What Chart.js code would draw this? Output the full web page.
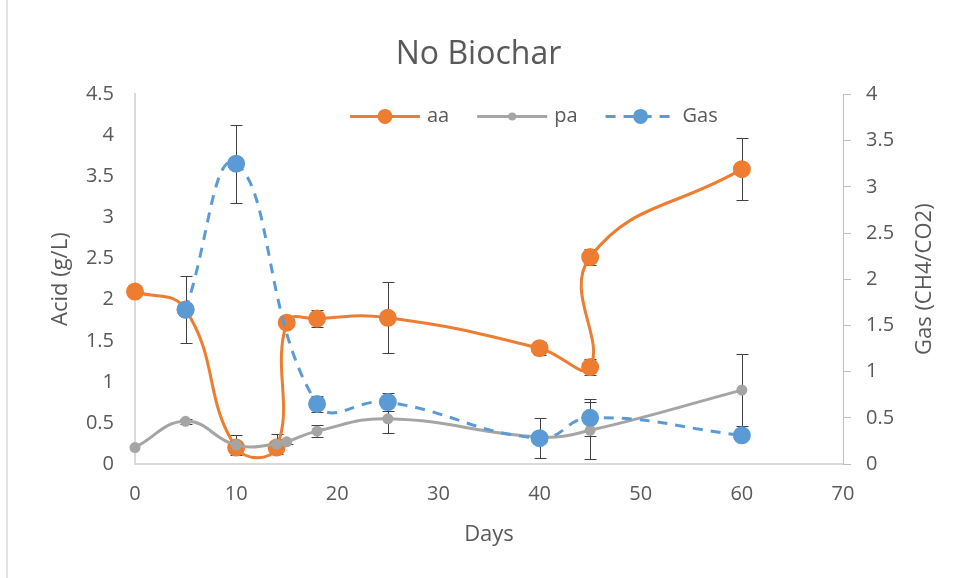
<!DOCTYPE html>
<html>
<head>
<meta charset="utf-8">
<script src="https://cdn.jsdelivr.net/npm/chart.js@4.4.1/dist/chart.umd.min.js"></script>
<style>
  html, body { margin: 0; padding: 0; background: #fff; }
  #wrap { position: relative; width: 957px; height: 578px; }
  #frame { position: absolute; left: 6px; top: 0; width: 2px; height: 578px; background: #e3e3e3; }
  canvas { position: absolute; left: 0; top: 0; }
</style>
</head>
<body>
<div id="wrap">
  <div id="frame"></div>
  <canvas id="grafico" width="957" height="578"></canvas>
</div>
<script>
// Datos
const diasAA = [0, 5, 10, 14, 15, 18, 25, 40, 45, 45, 60];
const aa = [2.1, 1.88, 0.2, 0.2, 1.72, 1.77, 1.78, 1.41, 1.18, 2.52, 3.59];
const errAA = [0, 0, 0.05, 0.05, 0, 0.1, 0.43, 0.08, 0.1, 0.1, 0.38];

const diasPA = [0, 5, 10, 14, 15, 18, 25, 40, 45, 60];
const pa = [0.2, 0.52, 0.23, 0.24, 0.27, 0.4, 0.55, 0.33, 0.41, 0.9];
const errPA = [0, 0.03, 0.12, 0.12, 0.03, 0.07, 0.17, 0, 0.35, 0.44];

const diasGas = [5, 10, 18, 25, 40, 45, 60];
const gas = [1.67, 3.25, 0.65, 0.67, 0.28, 0.5, 0.31];
const errGas = [0.36, 0.42, 0.09, 0.1, 0.22, 0.2, 0];

const ticksX = [0, 10, 20, 30, 40, 50, 60, 70];

const naranja = '#ED7D31';
const gris = '#A5A5A5';
const azul = '#5B9BD5';
const texto = '#595959';
const fuente = "'Open Sans', sans-serif";

const puntos = (xs, ys) => xs.map((x, i) => ({ x, y: ys[i] }));
const etiqueta = v => String(Math.round(v * 10) / 10);

// barras de error dibujadas con las escalas del gráfico
const barrasError = {
  id: 'barrasError',
  beforeDatasetsDraw(chart) {
    const ctx = chart.ctx;
    const sx = chart.scales.x;
    ctx.save();
    ctx.strokeStyle = '#404040';
    ctx.lineWidth = 1;
    chart.data.datasets.forEach(ds => {
      const sy = chart.scales[ds.yAxisID];
      ds.data.forEach((p, i) => {
        const e = ds.errores[i];
        if (!e) return;
        const x = Math.round(sx.getPixelForValue(p.x)) + 0.5;
        const y1 = Math.round(sy.getPixelForValue(p.y + e)) + 0.5;
        const y2 = Math.round(sy.getPixelForValue(p.y - e)) + 0.5;
        ctx.beginPath();
        ctx.moveTo(x, y1); ctx.lineTo(x, y2);
        ctx.moveTo(x - 6, y1); ctx.lineTo(x + 6, y1);
        ctx.moveTo(x - 6, y2); ctx.lineTo(x + 6, y2);
        ctx.stroke();
      });
    });
    ctx.restore();
  }
};

// leyenda dentro del área del gráfico y título del eje derecho girado como en Excel
const leyenda = {
  id: 'leyenda',
  afterDraw(chart) {
    const ctx = chart.ctx;
    const area = chart.chartArea;
    const y = area.top + 22;
    let x = area.left + 215;
    ctx.save();
    ctx.font = `20px ${fuente}`;
    ctx.textBaseline = 'middle';
    chart.data.datasets.slice().sort((a, b) => b.order - a.order).forEach(ds => {
      ctx.strokeStyle = ds.borderColor;
      ctx.lineWidth = ds.borderWidth;
      ctx.setLineDash(ds.borderDash || []);
      ctx.beginPath();
      ctx.moveTo(x, y); ctx.lineTo(x + 70, y);
      ctx.stroke();
      ctx.setLineDash([]);
      ctx.fillStyle = ds.pointBackgroundColor;
      ctx.beginPath();
      ctx.arc(x + 35, y, ds.pointRadius, 0, Math.PI * 2);
      ctx.fill();
      ctx.fillStyle = texto;
      ctx.fillText(ds.label, x + 77, y);
      x += 77 + ctx.measureText(ds.label).width + 28;
    });

    const s = chart.scales.y1;
    ctx.translate(s.right - 32, (area.top + area.bottom) / 2);
    ctx.rotate(-Math.PI / 2);
    ctx.font = `22px ${fuente}`;
    ctx.textAlign = 'center';
    ctx.fillText('Gas (CH4/CO2)', 0, 0);
    ctx.restore();
  }
};

new Chart(document.getElementById('grafico'), {
  type: 'scatter',
  data: {
    datasets: [{
      label: 'aa',
      data: puntos(diasAA, aa),
      errores: errAA,
      yAxisID: 'y',
      showLine: true,
      borderColor: naranja,
      backgroundColor: naranja,
      pointBackgroundColor: naranja,
      pointBorderColor: naranja,
      borderWidth: 3,
      pointRadius: 7.5,
      tension: 0.45,
      clip: false,
      order: 3
    }, {
      label: 'pa',
      data: puntos(diasPA, pa),
      errores: errPA,
      yAxisID: 'y',
      showLine: true,
      borderColor: gris,
      backgroundColor: gris,
      pointBackgroundColor: gris,
      pointBorderColor: gris,
      borderWidth: 3,
      pointRadius: 4,
      tension: 0.45,
      clip: false,
      order: 2
    }, {
      label: 'Gas',
      data: puntos(diasGas, gas),
      errores: errGas,
      yAxisID: 'y1',
      showLine: true,
      borderColor: azul,
      backgroundColor: azul,
      pointBackgroundColor: azul,
      pointBorderColor: azul,
      borderWidth: 3,
      borderDash: [10, 8],
      pointRadius: 7.5,
      tension: 0.45,
      clip: false,
      order: 1
    }]
  },
  options: {
    responsive: false,
    animation: false,
    layout: { padding: 0 },
    plugins: {
      legend: { display: false },
      tooltip: { enabled: false },
      title: {
        display: true,
        text: 'No Biochar',
        color: texto,
        font: { family: fuente, size: 32, weight: 'normal', lineHeight: 1.2 },
        padding: { top: 36, bottom: 20 }
      }
    },
    scales: {
      x: {
        type: 'linear',
        min: 0,
        max: 70,
        afterBuildTicks: s => { s.ticks = ticksX.map(v => ({ value: v })); },
        afterFit: s => { s.height = 114; },
        grid: { drawOnChartArea: false, drawTicks: false },
        border: { display: true, color: '#d9d9d9', width: 2 },
        ticks: { color: texto, padding: 18, font: { family: fuente, size: 20 } },
        title: {
          display: true,
          text: 'Days',
          color: texto,
          font: { family: fuente, size: 22 },
          padding: { top: 0, bottom: 30 }
        }
      },
      y: {
        position: 'left',
        min: 0,
        max: 4.5,
        afterFit: s => { s.width = 135; },
        grid: { drawOnChartArea: false, drawTicks: false },
        border: { display: true, color: '#d9d9d9', width: 2 },
        ticks: { stepSize: 0.5, callback: etiqueta, color: texto, padding: 21, font: { family: fuente, size: 20 } },
        title: {
          display: true,
          text: 'Acid (g/L)',
          color: texto,
          font: { family: fuente, size: 22 },
          padding: { top: 48, bottom: 0 }
        }
      },
      y1: {
        position: 'right',
        min: 0,
        max: 4,
        afterFit: s => { s.width = 114; },
        grid: { drawOnChartArea: false, drawTicks: true, tickLength: 8, color: '#bfbfbf' },
        border: { display: true, color: '#bfbfbf', width: 1 },
        ticks: { stepSize: 0.5, callback: etiqueta, color: texto, padding: 15, font: { family: fuente, size: 20 } }
      }
    }
  },
  plugins: [barrasError, leyenda]
});
</script>
</body>
</html>
